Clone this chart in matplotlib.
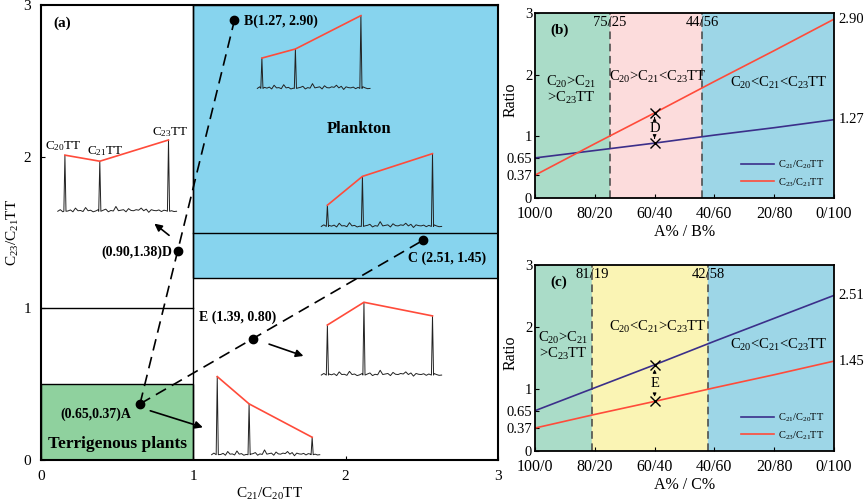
import numpy as np
import matplotlib
matplotlib.use('Agg')
import matplotlib.pyplot as plt
from matplotlib.patches import Rectangle

plt.rcParams['font.family'] = ['Liberation Serif', 'DejaVu Serif']
plt.rcParams['mathtext.default'] = 'regular'

# ---- panel (a) data ----
pts = {'A': (0.65, 0.37), 'B': (1.27, 2.90), 'C': (2.51, 1.45),
       'D': (0.90, 1.38), 'E': (1.39, 0.80)}

# chromatogram insets: x start, x end, baseline y, peaks (x, top)
ins_d = [0.11, 0.89, 1.64, [(0.157, 2.01), (0.386, 1.97), (0.837, 2.11)]]
ins_b = [1.42, 2.16, 2.45, [(1.45, 2.65), (1.67, 2.71), (2.10, 2.93)]]
ins_c = [1.84, 2.63, 1.54, [(1.88, 1.68), (2.11, 1.87), (2.57, 2.02)]]
ins_e = [1.84, 2.63, 0.56, [(1.88, 0.89), (2.12, 1.04), (2.57, 0.95)]]
ins_a = [1.12, 1.83, 0.035, [(1.157, 0.55), (1.366, 0.37), (1.78, 0.15)]]

# baseline wiggles (relative height)
noise = [0.0, 0.3, -0.1, 0.2, 0.05, 0.25, -0.1, 0.6, 0.1, 0.15, -0.05, 0.7,
         0.1, 0.2, -0.1, 0.05, 0.3, 0.1, 0.2, 0.4, -0.1, 0.15, 0.05, 0.9,
         0.1, 0.2, 0.3, -0.1, 0.5, 0.15, 0.1, 0.3, 0.2, 0.6, 0.1, 0.4,
         -0.2, 0.3, 0.15, 0.1, 0.25, -0.05, 0.2, 0.1, 0.3, 0.1, -0.05, 0.0]

# ---- panels (b) and (c) data ----
mix_x = [0, 20, 40, 60, 80, 100]
mix_labels = ['100/0', '80/20', '60/40', '40/60', '20/80', '0/100']
b_c21c20 = [0.65, 0.77, 0.89, 1.02, 1.14, 1.27]
b_c23c21 = [0.37, 0.88, 1.38, 1.89, 2.39, 2.90]
c_c21c20 = [0.65, 1.02, 1.39, 1.77, 2.14, 2.51]
c_c23c21 = [0.37, 0.59, 0.80, 1.02, 1.23, 1.45]
b_bounds = [25, 56]
c_bounds = [19, 58]

blue_a = '#87D4EE'
green_a = '#8FD19E'
purple = '#3B2F8A'
red = '#FF4B3A'

fig = plt.figure(figsize=(8.65, 5.0), dpi=100)
ax = fig.add_axes([41/865, 40/500, (498-41)/865, (460-5)/500])
ax_b = fig.add_axes([535/865, (500-198)/500, (834-535)/865, (198-13)/500])
ax_c = fig.add_axes([535/865, (500-451)/500, (834-535)/865, (451-265)/500])

# ---------------- (a) ----------------
ax.set_xlim(0, 3)
ax.set_ylim(0, 3)
ax.add_patch(Rectangle((1, 1.2), 2, 1.8, facecolor=blue_a, edgecolor='k', lw=1.0, zorder=0))
ax.add_patch(Rectangle((0, 0), 1, 0.5, facecolor=green_a, edgecolor='k', lw=1.0, zorder=0))
ax.plot([0, 1], [1, 1], color='k', lw=1.0)
ax.plot([1, 3], [1.5, 1.5], color='k', lw=1.0)
ax.plot([1, 1], [0, 3], color='k', lw=1.0)

for ins in [ins_d, ins_b, ins_c, ins_e, ins_a]:
    x0, x1, base, peaks = ins
    bx = np.linspace(x0, x1, len(noise))
    by = base + np.array(noise) * 0.035
    keep = np.ones(len(bx), bool)
    for px, top in peaks:
        keep &= np.abs(bx - px) > 0.009
    xs = list(bx[keep]); ys = list(by[keep])
    for px, top in peaks:
        xs += [px - 0.007, px, px + 0.007]
        ys += [base, top, base]
    order = np.argsort(xs)
    ax.plot(np.array(xs)[order], np.array(ys)[order], color='#222222', lw=0.7, zorder=3)
    ax.plot([p[0] for p in peaks], [p[1] for p in peaks], color=red, lw=1.2, zorder=4)

ax.text(0.145, 2.07, 'C$_{20}$TT', ha='center', va='center', fontsize=9.5)
ax.text(0.42, 2.04, 'C$_{21}$TT', ha='center', va='center', fontsize=9.5)
ax.text(0.85, 2.16, 'C$_{23}$TT', ha='center', va='center', fontsize=9.5)

dash = dict(color='k', lw=1.2, dashes=(7, 4), zorder=5)
ax.plot([pts['A'][0], pts['B'][0]], [pts['A'][1], pts['B'][1]], **dash)
ax.plot([pts['A'][0], pts['C'][0]], [pts['A'][1], pts['C'][1]], **dash)
for k, (x, y) in pts.items():
    ax.plot(x, y, 'o', color='k', ms=6, zorder=6)

arrow = dict(arrowstyle='-|>', color='k', lw=1.2, mutation_scale=11)
ax.annotate('', xy=(0.73, 1.57), xytext=(0.855, 1.47), arrowprops=arrow)
ax.annotate('', xy=(1.08, 0.21), xytext=(0.70, 0.33), arrowprops=arrow)
ax.annotate('', xy=(1.74, 0.68), xytext=(1.48, 0.77), arrowprops=arrow)

bold = dict(fontweight='bold', fontsize=10)
ax.text(0.08, 2.88, '(a)', ha='left', va='center', fontweight='bold', fontsize=11)
ax.text(1.33, 2.89, 'B(1.27, 2.90)', ha='left', va='center', **bold)
ax.text(2.09, 2.18, 'Plankton', ha='center', va='center', fontweight='bold', fontsize=12)
ax.text(0.86, 1.37, '(0.90,1.38)D', ha='right', va='center', **bold)
ax.text(2.41, 1.33, 'C (2.51, 1.45)', ha='left', va='center', **bold)
ax.text(1.04, 0.94, 'E (1.39, 0.80)', ha='left', va='center', **bold)
ax.text(0.125, 0.30, '(0.65,0.37)A', ha='left', va='center', **bold)
ax.text(0.5, 0.105, 'Terrigenous plants', ha='center', va='center', fontweight='bold', fontsize=12.5)

ax.set_xticks([0, 1, 2, 3])
ax.set_yticks([0, 1, 2, 3])
ax.tick_params(direction='in', length=3, labelsize=11, pad=7)
ax.set_xlabel('C$_{21}$/C$_{20}$TT', fontsize=11, labelpad=2)
ax.set_ylabel('C$_{23}$/C$_{21}$TT', fontsize=11, labelpad=2)
for s in ax.spines.values():
    s.set_linewidth(1.5)


# ---------------- (b) and (c) ----------------
def mix_panel(axm, bounds, mid_color, l21, l23, tag, letter, xlab,
              mid_text, side_pos, mid_y, split_labels):
    axm.set_xlim(0, 100)
    axm.set_ylim(0, 3)
    axm.axvspan(0, bounds[0], color='#AADCC8', zorder=0)
    axm.axvspan(bounds[0], bounds[1], color=mid_color, zorder=0)
    axm.axvspan(bounds[1], 100, color='#9DD6E7', zorder=0)
    for bx_, lab in zip(bounds, split_labels):
        axm.axvline(bx_, color='#444444', lw=1.1, dashes=(5, 3))
        axm.text(bx_, 2.84, lab, ha='center', va='center', fontsize=10.5)
    axm.plot(mix_x, l21, color=purple, lw=1.2, label='C$_{21}$/C$_{20}$TT')
    axm.plot(mix_x, l23, color=red, lw=1.2, label='C$_{23}$/C$_{21}$TT')

    hi, lo = max(l21[2], l23[2]), min(l21[2], l23[2])
    axm.plot([40, 40], [hi, lo], 'x', color='k', ms=7, mew=1.0)
    ym = (hi + lo) / 2
    axm.text(40, ym, letter, ha='center', va='center', fontsize=10.5)
    small = dict(arrowstyle='-|>', color='k', lw=0.7, mutation_scale=5)
    axm.annotate('', xy=(40, hi - 0.03), xytext=(40, ym + 0.12), arrowprops=small)
    axm.annotate('', xy=(40, lo + 0.03), xytext=(40, ym - 0.12), arrowprops=small)

    axm.text(side_pos[0], side_pos[1], 'C$_{20}$>C$_{21}$\n>C$_{23}$TT', ha='center', va='center',
             fontsize=10.5, linespacing=1.0)
    axm.text(41, mid_y, mid_text, ha='center', va='center', fontsize=10.5)
    axm.text(81.5, side_pos[2], 'C$_{20}$<C$_{21}$<C$_{23}$TT', ha='center', va='center', fontsize=10.5)
    axm.text(5, 2.72, tag, ha='left', va='center', fontweight='bold', fontsize=11)

    axm.text(101.5, l21[-1], f'{l21[-1]:.2f}', ha='left', va='center', fontsize=10.5)
    axm.text(101.5, l23[-1], f'{l23[-1]:.2f}', ha='left', va='center', fontsize=10.5)

    axm.set_xticks(mix_x)
    axm.set_xticklabels(mix_labels)
    axm.set_yticks([0, 0.37, 0.65, 1, 2, 3])
    axm.set_yticklabels(['0', '0.37', '0.65', '1', '2', '3'])
    axm.tick_params(direction='in', length=3, labelsize=10.5, pad=2)
    axm.tick_params(axis='x', labelsize=11.5, pad=6)
    axm.set_xlabel(xlab, fontsize=11.5, labelpad=1)
    axm.set_ylabel('Ratio', fontsize=11.5)
    axm.yaxis.set_label_coords(-0.055, 0.53)
    for s in axm.spines.values():
        s.set_linewidth(1.3)
    axm.legend(loc='lower right', bbox_to_anchor=(1.0, 0.0), frameon=False,
               fontsize=7.5, handlelength=3.2, handletextpad=0.4, labelspacing=0.5)


mix_panel(ax_b, b_bounds, '#FCDCDC', b_c21c20, b_c23c21, '(b)', 'D', 'A% / B%',
          'C$_{20}$>C$_{21}$<C$_{23}$TT', (12, 1.75, 1.86), 1.96, ['75/25', '44/56'])
mix_panel(ax_c, c_bounds, '#FAF4B4', c_c21c20, c_c23c21, '(c)', 'E', 'A% / C%',
          'C$_{20}$<C$_{21}$>C$_{23}$TT', (9.5, 1.7, 1.71), 2.0, ['81/19', '42/58'])

fig.savefig('out.png', dpi=100)
